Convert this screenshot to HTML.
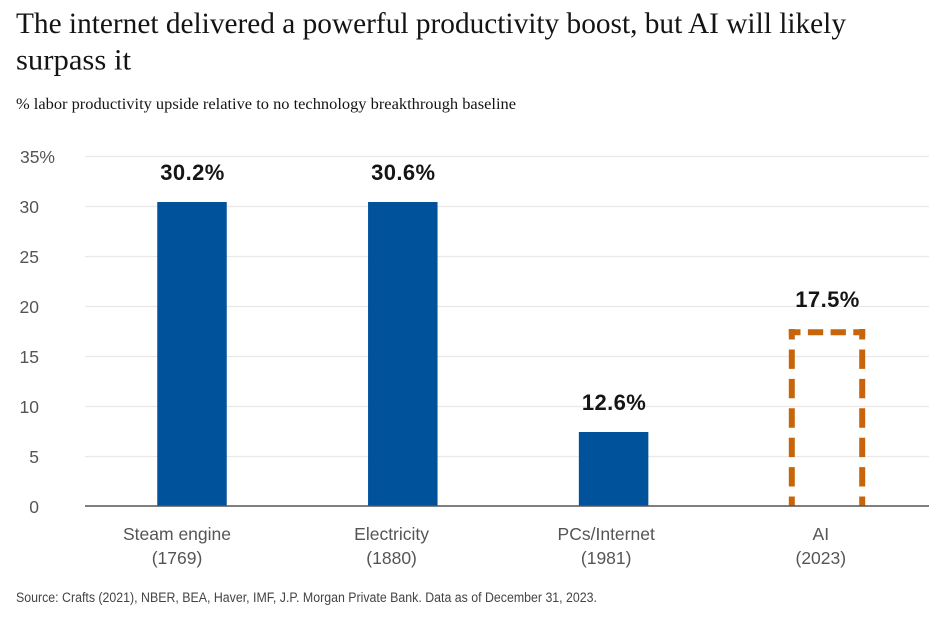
<!DOCTYPE html>
<html lang="en">
<head>
<meta charset="utf-8">
<title>Productivity chart</title>
<style>
html,body{margin:0;padding:0;background:#fff;}
svg{display:block;}
.serif{font-family:"Liberation Serif",serif;fill:#141414;}
.sans{font-family:"Liberation Sans",sans-serif;}
.tick{font-size:17.5px;fill:#555;}
.cat{font-size:17.5px;fill:#555;text-anchor:middle;}
.val{font-size:22px;font-weight:700;fill:#151515;text-anchor:middle;letter-spacing:.4px;}
</style>
</head>
<body>
<svg id="chart" width="943" height="620" viewBox="0 0 943 620" xmlns="http://www.w3.org/2000/svg">
<text class="serif" x="16" y="33" font-size="29.5" textLength="830" lengthAdjust="spacingAndGlyphs">The internet delivered a powerful productivity boost, but AI will likely</text>
<text class="serif" x="16" y="69.5" font-size="29.5" textLength="115" lengthAdjust="spacingAndGlyphs">surpass it</text>
<text class="serif" x="16" y="109" font-size="16" textLength="500" lengthAdjust="spacingAndGlyphs">% labor productivity upside relative to no technology breakthrough baseline</text>
<g id="grid"></g>
<g id="yticks"></g>
<g id="bars"></g>
<g id="vals"></g>
<g id="cats"></g>
<line x1="85" x2="929" y1="506" y2="506" stroke="#555" stroke-width="1.6"></line>
<text class="sans" x="16" y="602" font-size="13.5" fill="#444" textLength="581" lengthAdjust="spacingAndGlyphs">Source: Crafts (2021), NBER, BEA, Haver, IMF, J.P. Morgan Private Bank. Data as of December 31, 2023.</text>
</svg>
<script>
const categories = ["Steam engine", "Electricity", "PCs/Internet", "AI"];
const years = ["(1769)", "(1880)", "(1981)", "(2023)"];
const barValues = [30.4, 30.4, 7.4, 17.5];
const printedLabels = ["30.2%", "30.6%", "12.6%", "17.5%"];
const projected = [false, false, false, true];
const tickValues = [0, 5, 10, 15, 20, 25, 30, 35];
const tickLabels = ["0", "5", "10", "15", "20", "25", "30", "35%"];

const NS = "http://www.w3.org/2000/svg";
const yScale = v => 506 - v * (350 / 35);
const xScale = i => 192 + 210.8 * i;
const catLabelX = i => 177 + 214.6 * i;
const BAR_W = 69.5;

function make(tag, parent, attrs, text) {
  const el = document.createElementNS(NS, tag);
  for (const k in attrs) el.setAttribute(k, attrs[k]);
  if (text !== undefined) el.textContent = text;
  parent.appendChild(el);
  return el;
}
const grid = document.getElementById("grid");
const yticks = document.getElementById("yticks");
const bars = document.getElementById("bars");
const vals = document.getElementById("vals");
const cats = document.getElementById("cats");

tickValues.forEach((t, i) => {
  if (t !== 0) {
    const gl = make("line", grid, {x1: 85, x2: 929, y1: yScale(t) + 0.5, y2: yScale(t) + 0.5, stroke: "#ece8e8", "stroke-width": 1.2});
    
    
  }
  const hasPct = tickLabels[i].indexOf("%") >= 0;
  const tl = make("text", yticks, {class: "sans tick", x: hasPct ? 55 : 39, y: yScale(t) + 6.8, "text-anchor": "end"}, tickLabels[i]);
  
  
});

categories.forEach((c, i) => {
  const v = barValues[i];
  const top = yScale(v);
  let cx = xScale(i);
  if (projected[i]) {
    cx += 2.6;
    const half = 35.2;
    const left = cx - half, right = cx + half, outerL = left - 3, outerR = right + 3;
    const colour = "#c8650a";
    const g = make("g", bars, {fill: "none", stroke: colour, "stroke-width": 6});
    
    
    make("line", g, {x1: left, x2: left, y1: yScale(0), y2: top - 2, "stroke-dasharray": "19.4 10", "stroke-dashoffset": 9.9});
    make("line", g, {x1: right, x2: right, y1: yScale(0), y2: top - 2, "stroke-dasharray": "19.4 10", "stroke-dashoffset": 9.9});
    make("line", g, {x1: outerL, x2: outerR, y1: top + 1.2, y2: top + 1.2, "stroke-dasharray": "15.3 7.4", "stroke-dashoffset": 3.6});
  } else {
    const r = make("rect", bars, {x: cx - BAR_W / 2, y: top, width: BAR_W, height: yScale(0) - top, fill: "#00539b"});
    
    
  }
  const vt = make("text", vals, {class: "sans val", x: cx + 0.5, y: top - (projected[i] ? 24 : 21.8)}, printedLabels[i]);
  
  
  const ct = make("text", cats, {class: "sans cat", x: catLabelX(i), y: 540}, c);
  
  
  const yt = make("text", cats, {class: "sans cat", x: catLabelX(i), y: 564}, years[i]);
  
  
});
</script>
</body>
</html>
